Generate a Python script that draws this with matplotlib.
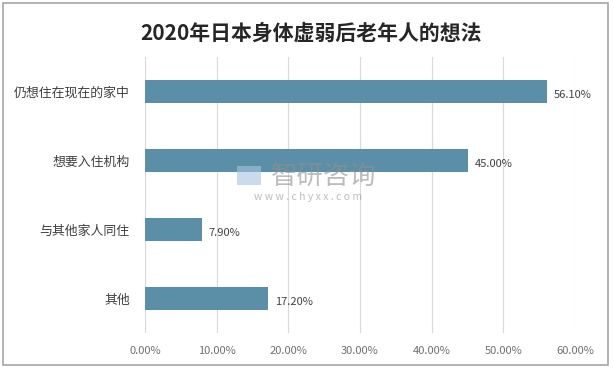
import matplotlib
matplotlib.use("Agg")
import matplotlib.pyplot as plt
from matplotlib.patches import Rectangle
from matplotlib.ticker import FuncFormatter

plt.rcParams["font.family"] = ["Noto Sans CJK SC", "DejaVu Sans"]

categories = ["仍想住在现在的家中", "想要入住机构", "与其他家人同住", "其他"]
values = [56.10, 45.00, 7.90, 17.20]
x_ticks = [0, 10, 20, 30, 40, 50, 60]

BAR_COLOR = "#5B8FA7"

fig = plt.figure(figsize=(6.14, 3.70), dpi=100)
W, H = 614, 370

# outer frame (kept below the axes)
fig.patches.append(Rectangle((3 / W, 5 / H), 605 / W, 362 / H, transform=fig.transFigure,
                             facecolor="white", edgecolor="#A6A6A6", linewidth=1.2, zorder=-1))

ax = fig.add_axes([145 / W, 1 - 333 / H, 430 / W, 276 / H])
ax.set_facecolor("none")

y = list(range(len(categories)))
ax.barh(y, values, height=0.34, color=BAR_COLOR, zorder=3)
for yi, v in zip(y, values):
    ax.text(v + 1.0, yi + 0.05, f"{v:.2f}%", va="center", ha="left",
            fontsize=8, color="#404040", zorder=4)

ax.set_xlim(0, 60)
ax.set_ylim(3.5, -0.5)
ax.set_xticks(x_ticks)
ax.xaxis.set_major_formatter(FuncFormatter(lambda v, p: f"{v:.2f}%"))
ax.set_yticks(y)
ax.set_yticklabels(categories)
ax.tick_params(axis="x", length=0, labelsize=8, labelcolor="#707070", pad=9)
ax.tick_params(axis="y", length=0, labelsize=9.3, labelcolor="#404040", pad=11)
ax.grid(axis="x", color="#D9D9D9", linewidth=0.8, zorder=0)
for s in ax.spines.values():
    s.set_visible(False)

fig.text(311 / W, 1 - 33 / H, "2020年日本身体虚弱后老年人的想法", ha="center", va="center",
         fontsize=15, fontweight="bold", color="#262626")

# watermark
fig.text(324 / W, 1 - 176 / H, "智研咨询", ha="center", va="center", fontsize=19,
         color="#909090", alpha=0.6, zorder=5)
fig.text(308 / W, 1 - 197 / H, "w w w . c h y x x . c o m", ha="center", va="center",
         fontsize=7.5, color="#909090", alpha=0.6, zorder=5)
fig.patches.append(Rectangle((237 / W, 1 - 185 / H), 24 / W, 19 / H, transform=fig.transFigure,
                             facecolor="#A9C4DE", edgecolor="none", alpha=0.6, zorder=5))

fig.savefig("out.png", dpi=100)
